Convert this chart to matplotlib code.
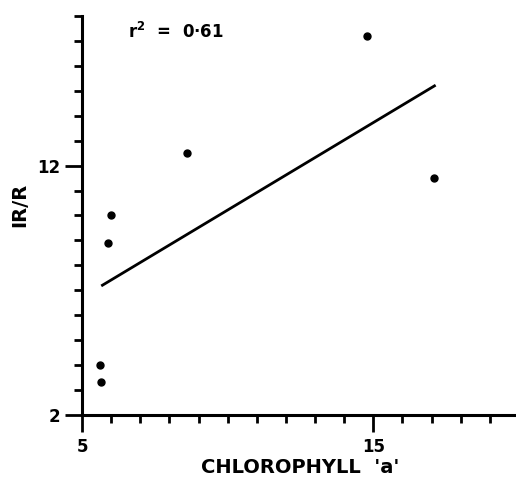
import matplotlib
matplotlib.use("Agg")
import matplotlib.pyplot as plt
from matplotlib.ticker import MultipleLocator, FixedLocator

# values
chlorophyll = [14.8, 17.1, 8.6, 6.0, 5.9, 5.6, 5.65]
ir_r = [17.2, 11.5, 12.5, 10.0, 8.9, 4.0, 3.3]

fit_x = [5.7, 17.1]
fit_y = [7.2, 15.2]

x_labels = {5: "5", 15: "15"}
y_labels = {2: "2", 12: "12"}

plt.rcParams["font.family"] = "DejaVu Sans"
plt.rcParams["font.weight"] = "bold"

fig = plt.figure(figsize=(5.16, 4.88), dpi=100)
ax = fig.add_axes([0.159, 0.15, 0.841, 0.817])

ax.plot(chlorophyll, ir_r, "o", color="black", markersize=5)
ax.plot(fit_x, fit_y, "-", color="black", linewidth=2)

ax.set_xlim(5, 19.9)
ax.set_ylim(2, 18)

for s in ["top", "right"]:
    ax.spines[s].set_visible(False)
for s in ["left", "bottom"]:
    ax.spines[s].set_linewidth(2.2)

ax.xaxis.set_major_locator(FixedLocator(list(x_labels)))
ax.xaxis.set_minor_locator(MultipleLocator(1))
ax.set_xticklabels(list(x_labels.values()))
ax.yaxis.set_major_locator(FixedLocator(list(y_labels)))
ax.yaxis.set_minor_locator(MultipleLocator(1))
ax.set_yticklabels(list(y_labels.values()))

ax.tick_params(which="major", length=12, width=2, labelsize=12, direction="out")
ax.tick_params(axis="x", which="major", pad=5)
ax.tick_params(axis="y", which="major", pad=3.5)
ax.tick_params(which="minor", length=6, width=2, direction="out")

ax.set_xlabel("CHLOROPHYLL  'a'", fontsize=14, fontweight="bold")
ax.xaxis.set_label_coords(0.502, -0.133)
ax.xaxis.label.set_va("center")
ax.set_ylabel("IR/R", fontsize=14, fontweight="bold")
ax.yaxis.set_label_coords(-0.143, 0.526)
ax.yaxis.label.set_va("center")

ax.text(0.106, 0.985, r"$\mathbf{r^2}$  =  0·61", transform=ax.transAxes,
        fontsize=12, fontweight="bold", va="top", ha="left")

fig.savefig("out.png", dpi=100)
